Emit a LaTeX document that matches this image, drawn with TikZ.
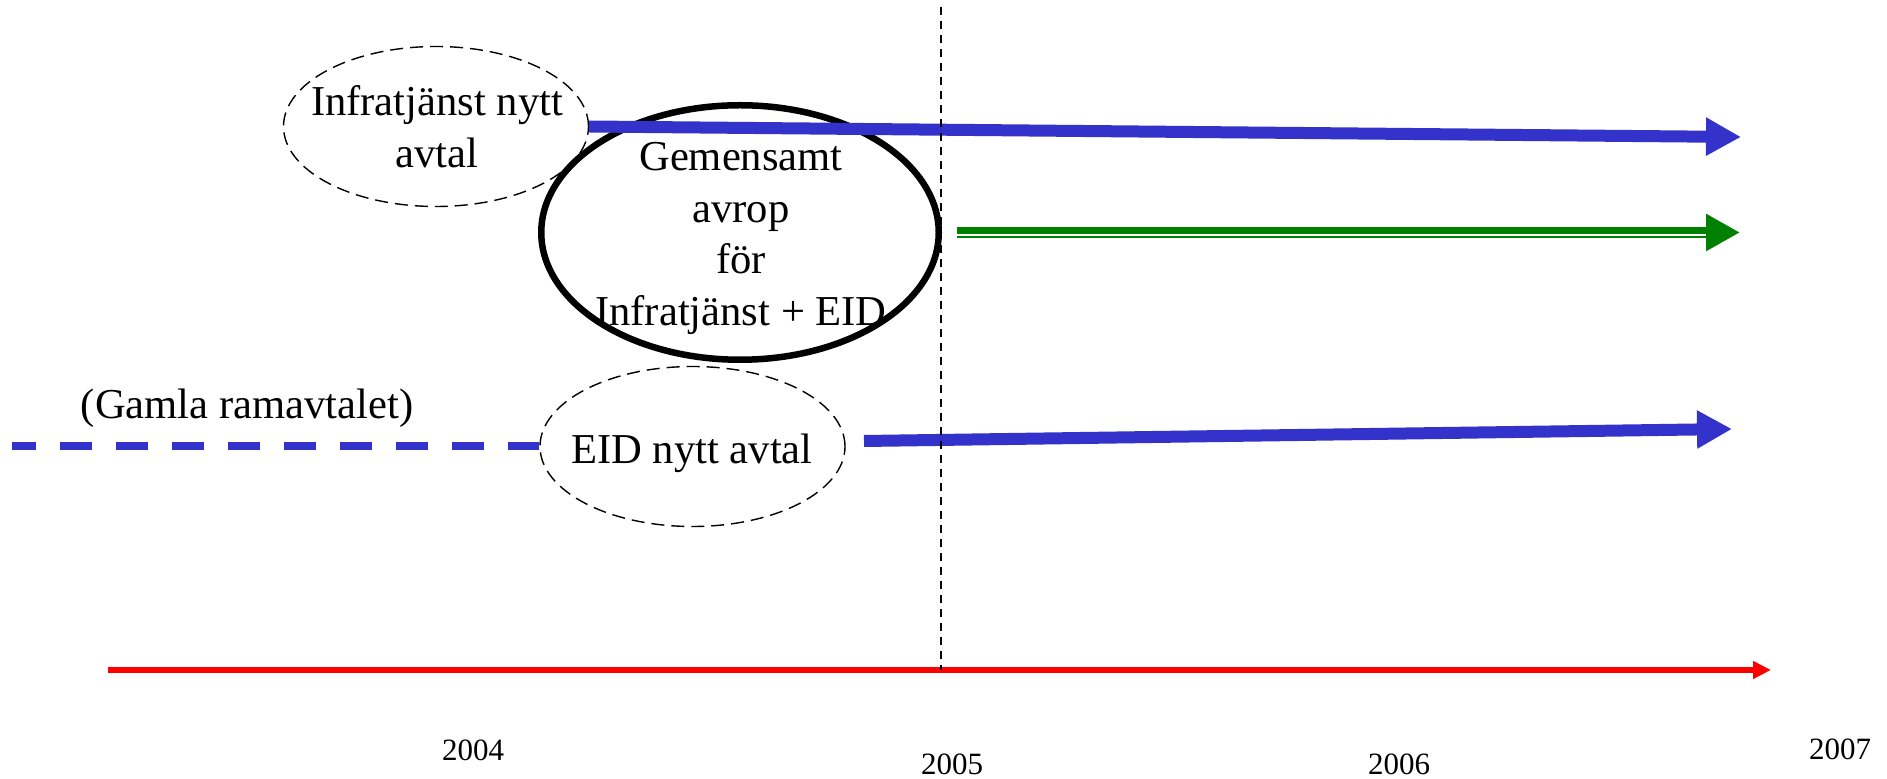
\documentclass[tikz,border=0pt]{standalone}
\usepackage{fontspec}
\setmainfont{Liberation Serif}
\usetikzlibrary{shapes.geometric,arrows.meta}
\definecolor{ablue}{RGB}{51,51,204}
\definecolor{agreen}{RGB}{0,128,0}
\definecolor{ared}{RGB}{255,0,0}
\begin{document}
\begin{tikzpicture}[x=0.5pt,y=-0.5pt,
  lbl/.style={font=\fontsize{21.3}{25.8}\selectfont, align=center, inner sep=0pt},
  yr/.style={font=\fontsize{15.5}{18}\selectfont, inner sep=0pt},
  dashell/.style={ellipse, draw, line width=0.7pt, dash pattern=on 6.5pt off 3.5pt,
     minimum width=152.5pt, minimum height=80pt, inner sep=0pt},
  solidell/.style={ellipse, draw, fill=white, line width=3.25pt,
     minimum width=198.75pt, minimum height=127.25pt, inner sep=0pt},
  bluearrow/.style={draw=ablue, line width=6pt, -{Triangle[length=17.5pt,width=18pt]}},
  greenarrow/.style={draw=agreen, line width=5.8pt, -{Triangle[length=17pt,width=17.5pt]}},
  redarrow/.style={draw=ared, line width=3pt, -{Triangle[length=9pt,width=8.5pt]}},
  bluedash/.style={draw=ablue, line width=4pt, dash pattern=on 16pt off 12pt, dash phase=4pt},
  marker/.style={draw=black, line width=1pt, dash pattern=on 4pt off 3pt}
]
\useasboundingbox (0,0) rectangle (1887,779);

% ellipses
\node[dashell] (inf) at (436,126.5) {};
\node[solidell] (gem) at (740,232.5) {};
\node[dashell] (eid) at (692.5,446.5) {};

% labels
\node[lbl] (inft) at (437,127) {Infratjänst nytt\\avtal};
\node[lbl] (gemt) at (741,238.5) {Gemensamt\\avrop\\för\\Infratjänst + EID};
\node[lbl] (eidt) at (692,453) {EID nytt avtal};
\node[lbl] (gamla) at (247,408) {(Gamla ramavtalet)};

% coordinates
\coordinate (atip) at (1741,137);
\coordinate (gs) at (957,232.5);
\coordinate (gtip) at (1740,232.5);
\coordinate (gw) at (1706,234.8);
\coordinate (gws) at (957,234.8);
\coordinate (es) at (864,441);
\coordinate (etip) at (1732,429);
\coordinate (ds) at (12,446.5);
\coordinate (rs) at (108,670);
\coordinate (rtip) at (1771,670);
\coordinate (mtop) at (941,7);
\coordinate (mbot) at (941,670);

% arrows
\draw[bluedash] (ds) -- (eid.west);
\draw[bluearrow] (inf.east) -- (atip);
\draw[greenarrow] (gs) -- (gtip);
\draw[white, line width=1.1pt] (gws) -- (gw);
\draw[bluearrow] (es) -- (etip);
\draw[redarrow] (rs) -- (rtip);

% marker line
\draw[marker] (mtop) -- (mbot);

% years
\node[yr] (y4) at (473,750) {2004};
\node[yr] (y5) at (952,764) {2005};
\node[yr] (y6) at (1399,764) {2006};
\node[yr] (y7) at (1840,749) {2007};
\end{tikzpicture}
\end{document}
